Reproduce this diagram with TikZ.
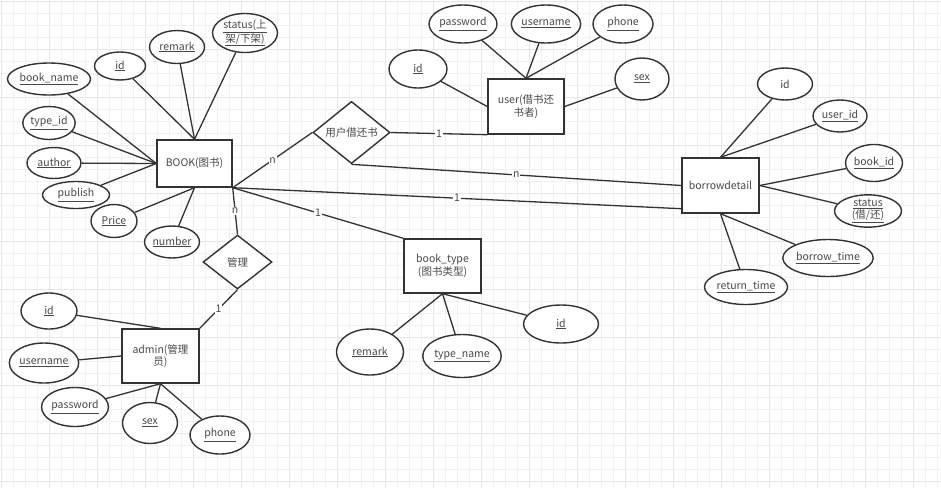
\documentclass[tikz,border=0pt]{standalone}
\usepackage{fontspec}
\setmainfont{Noto Sans CJK SC}
\usetikzlibrary{shapes.geometric}
\definecolor{lc}{HTML}{333333}
\definecolor{tc}{HTML}{484848}
\definecolor{gminor}{HTML}{F1F1F1}
\definecolor{gmajor}{HTML}{E6E6E6}
\begin{document}
\begin{tikzpicture}[x=1pt,y=-1pt,
  ent/.style={draw=lc, line width=1.4pt, fill=white, inner sep=1pt, align=center,
    font=\fontsize{10.5}{12.5}\selectfont, text=tc},
  attr/.style={ellipse, draw=lc, line width=1.4pt, fill=white, inner sep=0pt, align=center,
    font=\fontsize{10.5}{12.5}\selectfont, text=tc},
  rel/.style={diamond, draw=lc, line width=1.4pt, fill=white, inner sep=0pt, align=center,
    font=\fontsize{10.5}{12.5}\selectfont, text=tc},
  conn/.style={draw=lc, line width=1.3pt},
  lab/.style={fill=white, inner sep=0.8pt, font=\fontsize{10.5}{12}\selectfont, text=tc},
  gmin/.style={draw=gminor, line width=0.9pt},
  gmaj/.style={draw=gmajor, line width=1.4pt}]
\useasboundingbox (0,0) rectangle (941,488);
\fill[white] (0,0) rectangle (941,488);
% grid
\foreach \i in {0,...,78} {
  \pgfmathtruncatemacro{\m}{mod(\i,4)}
  \ifnum\m=0
    \draw[gmaj] ({1.7+12*\i},0) -- ({1.7+12*\i},488);
  \else
    \draw[gmin] ({1.7+12*\i},0) -- ({1.7+12*\i},488);
  \fi
}
\foreach \j in {0,...,40} {
  \pgfmathtruncatemacro{\m}{mod(\j,4)}
  \ifnum\m=0
    \draw[gmaj] (0,{1.7+12*\j}) -- (941,{1.7+12*\j});
  \else
    \draw[gmin] (0,{1.7+12*\j}) -- (941,{1.7+12*\j});
  \fi
}
% entities
\node[ent, minimum width=75pt, minimum height=47pt] (book) at (194.5,163.5) {BOOK(图书)};
\node[ent, minimum width=76pt, minimum height=55pt] (user) at (526,106.5) {user(借书还\\书者)};
\node[ent, minimum width=77pt, minimum height=55pt] (bd) at (720.5,185.5) {borrowdetail};
\node[ent, minimum width=77pt, minimum height=54pt] (bt) at (442.5,266) {book\_type\\(图书类型)};
\node[ent, minimum width=77pt, minimum height=54pt] (admin) at (160.5,356) {admin(管理\\员)};
% relations
\node[rel, minimum width=77pt, minimum height=53pt] (r1) at (351.5,132.5) {用户借还书};
\node[rel, minimum width=69pt, minimum height=54pt] (r2) at (237.5,262) {管理};
% BOOK attributes
\node[attr, minimum width=65pt, minimum height=39pt] (bstatus) at (245,33) {\underline{status(上}\\[0pt]\underline{架/下架)}};
\node[attr, minimum width=55pt, minimum height=33pt] (bremark) at (177,47) {\underline{remark}};
\node[attr, minimum width=51pt, minimum height=28pt] (bid) at (120,66) {\underline{id}};
\node[attr, minimum width=76pt, minimum height=32pt] (bname) at (49,79) {\underline{book\_name}};
\node[attr, minimum width=52pt, minimum height=33pt] (btype) at (49,123) {\underline{type\_id}};
\node[attr, minimum width=54pt, minimum height=31pt] (bauthor) at (54,163) {\underline{author}};
\node[attr, minimum width=67pt, minimum height=27pt] (bpublish) at (76,195) {\underline{publish}};
\node[attr, minimum width=46pt, minimum height=33pt] (bprice) at (114,221) {\underline{Price}};
\node[attr, minimum width=54pt, minimum height=32pt] (bnumber) at (172,242) {\underline{number}};
% user attributes
\node[attr, minimum width=68pt, minimum height=38pt] (upw) at (463,24) {\underline{password}};
\node[attr, minimum width=65pt, minimum height=38pt] (uun) at (546,24) {\underline{username}};
\node[attr, minimum width=60pt, minimum height=38pt] (uph) at (623,24) {\underline{phone}};
\node[attr, minimum width=58pt, minimum height=38pt] (uid) at (418,69) {\underline{id}};
\node[attr, minimum width=54pt, minimum height=42pt] (usex) at (642,79) {\underline{sex}};
% borrowdetail attributes
\node[attr, minimum width=55pt, minimum height=32pt] (did) at (785,84) {id};
\node[attr, minimum width=54pt, minimum height=32pt] (duid) at (840,116) {\underline{user\_id}};
\node[attr, minimum width=55pt, minimum height=37pt] (dbid) at (874,163) {\underline{book\_id}};
\node[attr, minimum width=67pt, minimum height=32pt] (dstatus) at (868,211) {\underline{status}\\[-1pt]\underline{(借/还)}};
\node[attr, minimum width=77pt, minimum height=37pt] (dbt) at (828,258) {\underline{borrow\_time}};
\node[attr, minimum width=73pt, minimum height=35pt] (drt) at (746,287) {\underline{return\_time}};
% book_type attributes
\node[attr, minimum width=67pt, minimum height=46pt] (tremark) at (370,352) {\underline{remark}};
\node[attr, minimum width=63pt, minimum height=43pt] (tname) at (462,356) {\underline{type\_name}};
\node[attr, minimum width=75pt, minimum height=38pt] (tid) at (561,324) {\underline{id}};
% admin attributes
\node[attr, minimum width=56pt, minimum height=36pt] (aid) at (49,311) {\underline{id}};
\node[attr, minimum width=65pt, minimum height=40pt] (aun) at (44,363) {\underline{username}};
\node[attr, minimum width=66pt, minimum height=39pt] (apw) at (75,407) {\underline{password}};
\node[attr, minimum width=55pt, minimum height=41pt] (asex) at (150,423) {\underline{sex}};
\node[attr, minimum width=60pt, minimum height=38pt] (aph) at (220,435) {\underline{phone}};
% attribute connectors
\draw[conn] (bstatus) -- (book.north);
\draw[conn] (bremark) -- (book.north);
\draw[conn] (bid) -- (book.north);
\draw[conn] (bname) -- (book.west);
\draw[conn] (btype) -- (book.west);
\draw[conn] (bauthor) -- (book.west);
\draw[conn] (bpublish) -- (book.west);
\draw[conn] (bprice) -- (book.south);
\draw[conn] (bnumber) -- (book.south);
\draw[conn] (upw) -- (user.north);
\draw[conn] (uun) -- (user.north);
\draw[conn] (uph) -- (user.north);
\draw[conn] (uid) -- (user.west);
\draw[conn] (usex) -- (user.east);
\draw[conn] (did) -- (bd.north);
\draw[conn] (duid) -- (bd.north);
\draw[conn] (dbid) -- (bd.east);
\draw[conn] (dstatus) -- (bd.east);
\draw[conn] (dbt) -- (bd.south);
\draw[conn] (drt) -- (bd.south);
\draw[conn] (tremark) -- (bt.south);
\draw[conn] (tname) -- (bt.south);
\draw[conn] (tid) -- (bt.south);
\draw[conn] (aid) -- (admin.north);
\draw[conn] (aun) -- (admin.west);
\draw[conn] (apw) -- (admin.south);
\draw[conn] (asex) -- (admin.south);
\draw[conn] (aph) -- (admin.south);
% relationship connectors
\draw[conn] (book.south east) -- node[lab] {n} (r1.west);
\draw[conn] (r1.east) -- node[lab] {1} (user.south west);
\draw[conn] (r1.south) -- node[lab] {n} (bd.west);
\draw[conn] (book.south east) -- node[lab] {1} ([yshift=5pt]bd.south west);
\draw[conn] (book.south east) -- node[lab] {1} (bt.north west);
\draw[conn] (book.south east) -- node[lab] {n} (r2.north);
\draw[conn] (r2.south) -- node[lab] {1} (admin.north east);
\end{tikzpicture}
\end{document}
